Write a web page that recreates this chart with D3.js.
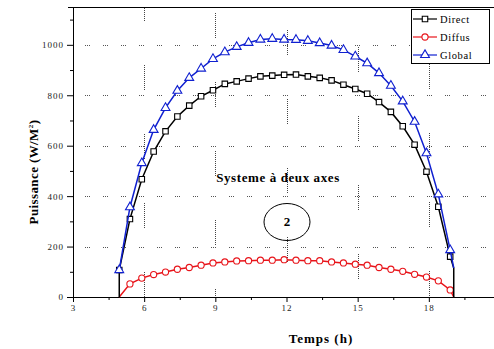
<!DOCTYPE html>
<html>
<head>
<meta charset="utf-8">
<script src="https://cdn.jsdelivr.net/npm/d3@7"></script>
<style>
  body { margin: 0; background: #fff; }
  svg { display: block; }
  .tick-label { font-family: "Liberation Serif", "DejaVu Serif", serif; font-size: 9px; letter-spacing: 1px; fill: #222; }
  .axis-title { font-family: "Liberation Serif", "DejaVu Serif", serif; font-size: 13px; font-weight: bold; fill: #000; }
  .legend-text { font-family: "Liberation Serif", "DejaVu Serif", serif; font-size: 10.5px; letter-spacing: 0.6px; fill: #000; }
</style>
</head>
<body>
<svg id="chart" width="494" height="349"></svg>
<script>
// hours with markers (half hour steps)
const hours = [5.4, 5.9, 6.4, 6.9, 7.4, 7.9, 8.4, 8.9, 9.4, 9.9, 10.4, 10.9, 11.4, 11.9,
  12.4, 12.9, 13.4, 13.9, 14.4, 14.9, 15.4, 15.9, 16.4, 16.9, 17.4, 17.9, 18.4, 18.9];

const direct = [309, 467, 577, 657, 716, 759, 796, 820, 845, 855, 866, 875, 878, 881,
  882, 875, 869, 859, 842, 825, 806, 773, 734, 677, 604, 497, 358, 160];
const diffus = [52, 75, 89, 99, 110, 117, 126, 135, 139, 143, 144, 146, 146, 148,
  146, 144, 144, 139, 135, 130, 126, 117, 110, 102, 90, 79, 64, 28];
const global = [356, 531, 663, 750, 818, 869, 906, 944, 971, 992, 1008, 1021, 1024, 1021,
  1020, 1016, 1007, 997, 980, 954, 927, 888, 838, 776, 695, 570, 407, 186];

// sunrise / sunset ends of each curve
const sunrise = 4.95;
const sunset = 19.05;
const directStart = [0, 107];
const directEnd = [115, 0];
const diffusStart = [0];
const diffusEnd = [0];
const globalStart = [107];
const globalEnd = [115];

const seriesNames = ['Direct', 'Diffus', 'Global'];
const xTicks = [3, 6, 9, 12, 15, 18, 21];
const yTicks = [0, 200, 400, 600, 800, 1000];

const colors = { Direct: '#000000', Diffus: '#e8141a', Global: '#1020d0' };
const markers = { Direct: d3.symbolSquare, Diffus: d3.symbolCircle, Global: d3.symbolTriangle };
const markerSize = { Direct: 30, Diffus: 30, Global: 34 };

const svg = d3.select('#chart');
const margin = { left: 73, top: 7, right: -6, bottom: 52 };
const W = 494, H = 349;

const x = d3.scaleLinear().domain([3, 21]).range([margin.left, W - margin.right]);
const y = d3.scaleLinear().domain([0, 1150]).range([H - margin.bottom, margin.top]);

function buildSeries(name, values, start, end, startMarker) {
  const pts = [];
  start.forEach((v, i) => pts.push({ t: sunrise, v: v, m: startMarker && i === start.length - 1 }));
  hours.forEach((t, i) => pts.push({ t: t, v: values[i], m: true }));
  end.forEach((v) => pts.push({ t: sunset, v: v, m: false }));
  return { name: name, points: pts };
}

const series = [
  buildSeries('Diffus', diffus, diffusStart, diffusEnd, false),
  buildSeries('Direct', direct, directStart, directEnd, true),
  buildSeries('Global', global, globalStart, globalEnd, true)
];

// dotted grid, Origin style
function dotPattern(nDots, gap) {
  const a = [];
  for (let i = 0; i < nDots; i++) a.push(1, 1);
  a[a.length - 1] = gap;
  return a.join(',');
}

function drawGrid() {
  svg.append('g')
    .selectAll('line')
    .data(yTicks.filter((d) => d > 0))
    .join('line')
    .attr('x1', margin.left + 12)
    .attr('x2', W)
    .attr('y1', (d) => Math.round(y(d)) + 0.5)
    .attr('y2', (d) => Math.round(y(d)) + 0.5)
    .attr('stroke', '#555')
    .attr('stroke-width', 1)
    .attr('stroke-dasharray', dotPattern(3, 13));

  svg.append('g')
    .selectAll('line')
    .data(xTicks.filter((d) => d > 3 && d < 21))
    .join('line')
    .attr('x1', (d) => Math.round(x(d)) + 0.5)
    .attr('x2', (d) => Math.round(x(d)) + 0.5)
    .attr('y1', y(0))
    .attr('y2', margin.top)
    .attr('stroke', '#444')
    .attr('stroke-width', 1)
    .attr('stroke-dasharray', dotPattern(13, 44))
    .attr('stroke-dashoffset', (d, i) => i * 17);
}

function drawAxes() {
  const xAxis = d3.axisBottom(x)
    .tickValues(d3.range(3, 21.1, 1.5))
    .tickSize(4)
    .tickFormat((d) => (xTicks.includes(d) ? d : ''));
  const gx = svg.append('g').attr('transform', `translate(0,${y(0)})`).call(xAxis);
  gx.select('.domain').attr('stroke', '#000');
  gx.selectAll('.tick line').attr('stroke', '#000').attr('y2', (d) => (xTicks.includes(d) ? 5 : 3));
  gx.selectAll('.tick text').attr('class', 'tick-label').attr('dy', '0.9em').attr('y', 6);

  const yAxis = d3.axisLeft(y)
    .tickValues(d3.range(0, 1101, 100))
    .tickSize(5)
    .tickFormat((d) => (yTicks.includes(d) ? d : ''));
  const gy = svg.append('g').attr('transform', `translate(${margin.left},0)`).call(yAxis);
  gy.select('.domain').attr('stroke', '#000');
  gy.selectAll('.tick line').attr('stroke', '#000').attr('x2', (d) => (yTicks.includes(d) ? -6 : -3));
  gy.selectAll('.tick text').attr('class', 'tick-label').attr('x', -9).attr('letter-spacing', '0.5px');

  // top frame
  svg.append('line')
    .attr('x1', margin.left).attr('x2', W)
    .attr('y1', margin.top + 0.5).attr('y2', margin.top + 0.5)
    .attr('stroke', '#000');

  svg.append('text')
    .attr('class', 'axis-title')
    .attr('x', 321)
    .attr('y', 343)
    .attr('text-anchor', 'middle')
    .attr('letter-spacing', '1px')
    .text('Temps (h)');

  const yl = svg.append('text')
    .attr('class', 'axis-title')
    .attr('transform', 'translate(38,172) rotate(-90)')
    .attr('text-anchor', 'middle')
    .attr('letter-spacing', '0.4px');
  yl.append('tspan').text('Puissance (W/M');
  yl.append('tspan').attr('font-size', '7px').attr('dy', '-5').text('2');
  yl.append('tspan').attr('dy', '5').text(')');
}

function drawSeries() {
  const line = d3.line().x((p) => x(p.t)).y((p) => y(p.v));
  series.forEach((s) => {
    const g = svg.append('g');
    g.append('path')
      .attr('d', line(s.points))
      .attr('fill', 'none')
      .attr('stroke', colors[s.name])
      .attr('stroke-width', 1.5);
    g.selectAll('path.marker')
      .data(s.points.filter((p) => p.m))
      .join('path')
      .classed('marker', true)
      .attr('transform', (p) => `translate(${x(p.t)},${y(p.v)})`)
      .attr('d', d3.symbol().type(markers[s.name]).size(markerSize[s.name]))
      .attr('fill', '#fff')
      .attr('stroke', colors[s.name])
      .attr('stroke-width', 1.1);
  });
}

function drawLegend() {
  const lg = svg.append('g');
  lg.append('rect')
    .attr('x', 411.5).attr('y', 9.5)
    .attr('width', 78).attr('height', 54)
    .attr('fill', '#fff')
    .attr('stroke', '#000');
  const row = lg.selectAll('g')
    .data(seriesNames)
    .join('g')
    .attr('transform', (d, i) => `translate(413,${19 + i * 18})`);
  row.append('line')
    .attr('x1', 0).attr('x2', 24)
    .attr('stroke', (d) => colors[d])
    .attr('stroke-width', 1.2);
  row.append('path')
    .attr('transform', 'translate(12,0)')
    .attr('d', (d) => d3.symbol().type(markers[d]).size(markerSize[d])())
    .attr('fill', '#fff')
    .attr('stroke', (d) => colors[d])
    .attr('stroke-width', 1.1);
  row.append('text')
    .attr('class', 'legend-text')
    .attr('x', 27)
    .attr('y', 4)
    .text((d) => d);
}

function drawNote() {
  svg.append('text')
    .attr('class', 'axis-title')
    .attr('x', 278)
    .attr('y', 182)
    .attr('text-anchor', 'middle')
    .attr('letter-spacing', '0.6px')
    .text('Systeme à deux axes');
  svg.append('ellipse')
    .attr('cx', 287).attr('cy', 222)
    .attr('rx', 23).attr('ry', 18.5)
    .attr('fill', 'none')
    .attr('stroke', '#000');
  svg.append('text')
    .attr('class', 'axis-title')
    .attr('font-size', '10px')
    .attr('x', 287)
    .attr('y', 226)
    .attr('text-anchor', 'middle')
    .text('2');
}

drawGrid();
drawAxes();
drawNote();
drawSeries();
drawLegend();
</script>
</body>
</html>
